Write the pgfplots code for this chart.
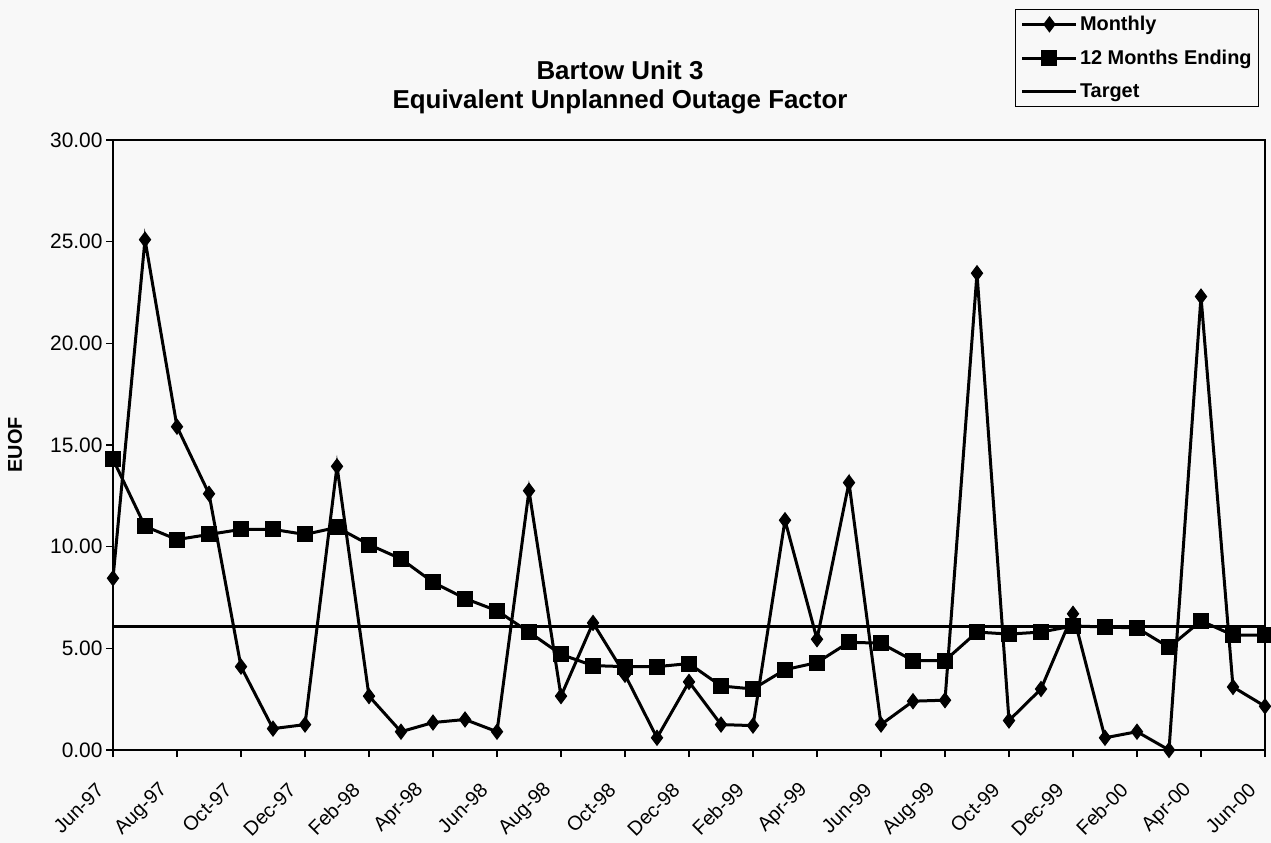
\documentclass[border=0pt]{standalone}
\usepackage{fontspec}
\setmainfont{Liberation Sans}
\usepackage{pgfplots}
\pgfplotsset{compat=1.18}
\definecolor{bg}{RGB}{248,248,248}
\begin{document}
\begin{tikzpicture}
\fill[bg] (0,0) rectangle (1271bp,843bp);
\useasboundingbox (0,0) rectangle (1271bp,843bp);
\node[font=\bfseries\fontsize{26}{29}\selectfont, align=center] at (620bp,756bp)
  {Bartow Unit 3\\Equivalent Unplanned Outage Factor};
\begin{axis}[
  at={(113bp,93bp)}, anchor=south west,
  width=1152bp, height=610bp, scale only axis,
  xmin=0, xmax=36, ymin=0, ymax=30,
  clip=false,
  axis line style={line width=2.8bp},
  xtick={0,2,...,36}, ytick={0,5,...,30},
  xtick pos=bottom, ytick pos=left,
  xticklabels={Jun-97,Aug-97,Oct-97,Dec-97,Feb-98,Apr-98,Jun-98,Aug-98,Oct-98,Dec-98,
               Feb-99,Apr-99,Jun-99,Aug-99,Oct-99,Dec-99,Feb-00,Apr-00,Jun-00},
  tick align=outside, major tick length=7bp,
  tick style={black, line width=1.4bp},
  x tick label style={font=\fontsize{20}{22}\selectfont, xshift=-12bp, yshift=-29bp, rotate=45, anchor=east, inner sep=1bp},
  y tick label style={font=\fontsize{21}{24}\selectfont,
    /pgf/number format/fixed, /pgf/number format/fixed zerofill, /pgf/number format/precision=2},
  /pgf/number format/assume math mode=true,
  ylabel={EUOF},
  ylabel style={font=\bfseries\fontsize{20}{22}\selectfont, at={(axis description cs:-0.085,0.5)}, anchor=center},
  legend style={at={(rel axis cs:0.9948,1.2148)}, anchor=north east,
    font=\bfseries\fontsize{20}{22}\selectfont, draw=black, line width=0.8bp, fill=bg,
    row sep=14bp, inner sep=5bp},
  legend cell align=left,
  legend image code/.code={\draw[mark repeat=2, mark phase=2] plot coordinates {(0bp,0bp) (27bp,0bp) (54bp,0bp)};},
]
\addplot[black, line width=3bp, mark=diamond*, mark size=7.5bp, mark options={line width=1bp}] coordinates {
(0,8.45) (1,25.1) (2,15.9) (3,12.6) (4,4.1) (5,1.05) (6,1.25) (7,13.95) (8,2.65) (9,0.9)
(10,1.35) (11,1.5) (12,0.9) (13,12.75) (14,2.65) (15,6.25) (16,3.7) (17,0.6) (18,3.35) (19,1.25)
(20,1.2) (21,11.3) (22,5.45) (23,13.15) (24,1.25) (25,2.4) (26,2.45) (27,23.45) (28,1.45) (29,3.0)
(30,6.7) (31,0.6) (32,0.9) (33,0.0) (34,22.3) (35,3.1) (36,2.15)
};
\addlegendentry{Monthly}
\addplot[black, line width=3bp, mark=square*, mark size=7.5bp, mark options={line width=1bp}] coordinates {
(0,14.3) (1,11.0) (2,10.35) (3,10.6) (4,10.85) (5,10.85) (6,10.6) (7,10.95) (8,10.1) (9,9.4)
(10,8.25) (11,7.45) (12,6.85) (13,5.8) (14,4.7) (15,4.15) (16,4.1) (17,4.1) (18,4.25) (19,3.15)
(20,3.0) (21,3.95) (22,4.3) (23,5.3) (24,5.25) (25,4.4) (26,4.4) (27,5.8) (28,5.7) (29,5.8)
(30,6.1) (31,6.05) (32,6.0) (33,5.05) (34,6.35) (35,5.65) (36,5.65)
};
\addlegendentry{12 Months Ending}
\addplot[black, line width=3.2bp] coordinates {(0,6.06) (36,6.06)};
\addlegendentry{Target}
\end{axis}
\end{tikzpicture}
\end{document}
